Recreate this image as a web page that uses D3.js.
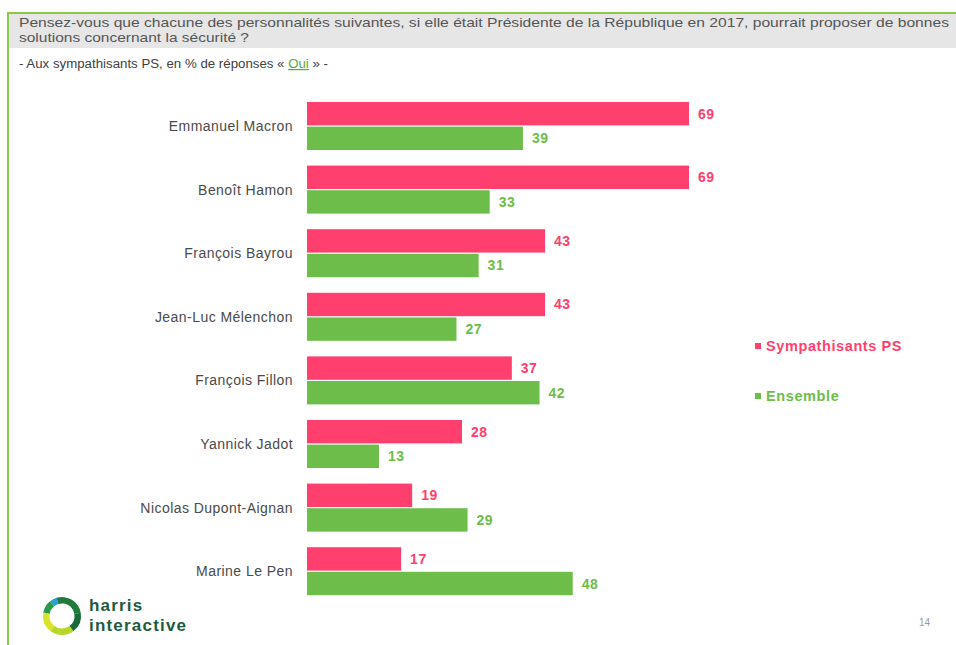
<!DOCTYPE html>
<html>
<head>
<meta charset="utf-8">
<script src="https://cdn.jsdelivr.net/npm/d3@7"></script>
<style>
  body { margin: 0; background: #fff; }
  svg { display: block; font-family: "Liberation Sans", Arial, sans-serif; }
</style>
</head>
<body>
<svg id="chart" width="956" height="645"></svg>
<script>
// data
const candidates = [
  'Emmanuel Macron', 'Benoît Hamon', 'François Bayrou', 'Jean-Luc Mélenchon',
  'François Fillon', 'Yannick Jadot', 'Nicolas Dupont-Aignan', 'Marine Le Pen'
];
const sympathisantsPS = [69, 69, 43, 43, 37, 28, 19, 17];
const ensemble = [39, 33, 31, 27, 42, 13, 29, 48];
const seriesNames = ['Sympathisants PS', 'Ensemble'];

const pink = '#ff3f6e';
const green = '#6dbd4a';
const colors = [pink, green];

const svg = d3.select('#chart');

// frame + header band
svg.append('rect').attr('x', 9).attr('y', 14).attr('width', 947).attr('height', 34).attr('fill', '#e6e6e6');
svg.append('line').attr('x1', 8).attr('x2', 956).attr('y1', 13).attr('y2', 13)
  .attr('stroke', '#8cc84b').attr('stroke-width', 2);
svg.append('line').attr('x1', 8).attr('x2', 8).attr('y1', 12).attr('y2', 645)
  .attr('stroke', '#8cc84b').attr('stroke-width', 2);

svg.append('text').attr('x', 19).attr('y', 27)
  .attr('font-size', 13.5).attr('fill', '#555')
  .attr('textLength', 930).attr('lengthAdjust', 'spacingAndGlyphs')
  .text('Pensez-vous que chacune des personnalités suivantes, si elle était Présidente de la République en 2017, pourrait proposer de bonnes');
svg.append('text').attr('x', 19).attr('y', 42)
  .attr('font-size', 13.5).attr('fill', '#555')
  .attr('textLength', 230).attr('lengthAdjust', 'spacingAndGlyphs')
  .text('solutions concernant la sécurité ?');

const sub = svg.append('text').attr('x', 19).attr('y', 68)
  .attr('font-size', 12).attr('fill', '#404040')
  .attr('textLength', 309).attr('lengthAdjust', 'spacingAndGlyphs');
sub.append('tspan').text('- Aux sympathisants PS, en % de réponses « ');
sub.append('tspan').attr('fill', '#5aa832').attr('text-decoration', 'underline').text('Oui');
sub.append('tspan').text(' » -');

// scales
const x = d3.scaleLinear().domain([0, 69]).range([307, 689]);
const y = d3.scaleBand().domain(candidates).range([86.4, 610.8]).paddingInner(0.245).paddingOuter(0.245);
const sy = d3.scaleBand().domain(d3.range(2)).range([0, y.bandwidth()]).paddingInner(0.05);

const rows = candidates.map((name, i) => ({ name, vals: [sympathisantsPS[i], ensemble[i]] }));

const g = svg.append('g').selectAll('g').data(rows).join('g')
  .attr('transform', d => `translate(0,${y(d.name)})`);

g.append('text')
  .attr('x', 293).attr('y', y.bandwidth() / 2 + 5)
  .attr('text-anchor', 'end').attr('font-size', 14).attr('letter-spacing', 0.45).attr('fill', '#4a4a4a')
  .text(d => d.name);

const bars = g.selectAll('g.bar').data(d => d.vals).join('g').attr('class', 'bar');

bars.append('rect')
  .attr('x', x(0))
  .attr('y', (d, i) => sy(i))
  .attr('width', d => x(d) - x(0))
  .attr('height', sy.bandwidth())
  .attr('fill', (d, i) => colors[i]);

bars.append('text')
  .attr('x', d => x(d) + 9)
  .attr('y', (d, i) => sy(i) + sy.bandwidth() / 2 + 5)
  .attr('font-size', 14).attr('font-weight', 'bold').attr('letter-spacing', 0.5)
  .attr('fill', (d, i) => colors[i])
  .text(d => d);

// legend
const legend = svg.append('g').selectAll('g').data(seriesNames).join('g')
  .attr('transform', (d, i) => `translate(755,${346 + i * 50})`);
legend.append('rect').attr('x', 0).attr('y', -3).attr('width', 6).attr('height', 6)
  .attr('fill', (d, i) => colors[i]);
legend.append('text').attr('x', 11).attr('y', 5)
  .attr('font-size', 14.5).attr('font-weight', 'bold').attr('letter-spacing', 0.6)
  .attr('fill', (d, i) => colors[i])
  .text(d => d);

// logo
const logo = svg.append('g').attr('transform', 'translate(62,616)');
const arc = d3.arc().innerRadius(12.5).outerRadius(19);
const segs = [
  { s: -0.3, e: 1.4, c: '#1f7a3c' },
  { s: 1.4, e: 2.5, c: '#1a6a3a' },
  { s: 2.5, e: 3.8, c: '#b8d62a' },
  { s: 3.8, e: 4.9, c: '#d8e42a' },
  { s: 4.9, e: 5.6, c: '#2a9a4a' },
  { s: 5.6, e: 6.0, c: '#2aa0d0' }
];
logo.selectAll('path').data(segs).join('path')
  .attr('d', d => arc({ startAngle: d.s, endAngle: d.e }))
  .attr('fill', d => d.c);
svg.append('text').attr('x', 89).attr('y', 611)
  .attr('font-size', 17).attr('font-weight', 'bold').attr('letter-spacing', 1.2).attr('fill', '#1e5a3e')
  .text('harris');
svg.append('text').attr('x', 89).attr('y', 631)
  .attr('font-size', 17).attr('font-weight', 'bold').attr('letter-spacing', 1.2).attr('fill', '#1e5a3e')
  .text('interactive');

svg.append('text').attr('x', 919).attr('y', 626)
  .attr('font-size', 10).attr('fill', '#999').text('14');
</script>
</body>
</html>
